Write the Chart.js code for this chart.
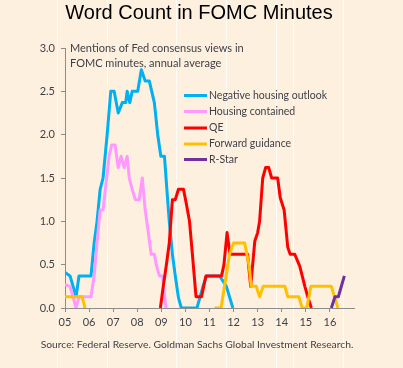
<!DOCTYPE html>
<html>
<head>
<meta charset="utf-8">
<script src="https://cdn.jsdelivr.net/npm/chart.js@4.4.1/dist/chart.umd.min.js"></script>
<style>
  body { margin: 0; background: #fdf0df; }
  #wrap { width: 403px; height: 368px; }
</style>
</head>
<body>
<div id="wrap"><canvas id="myChart" width="403" height="368"></canvas></div>
<script>
// x values are years since 2000 (5 = 2005), y values are mentions per minutes
const yearLabels = ["05", "06", "07", "08", "09", "10", "11", "12", "13", "14", "15", "16"];

const negHousingX = [5.00, 5.21, 5.46, 5.58, 6.08, 6.21, 6.33, 6.46, 6.58, 6.75, 6.90, 7.04, 7.21, 7.38, 7.52, 7.58, 7.69, 7.79, 8.02, 8.17, 8.33, 8.50, 8.71, 8.85, 8.98, 9.13, 9.23, 9.33, 9.46, 9.58, 9.71, 9.83, 10.48, 10.60, 10.73, 10.88, 11.42, 11.70, 11.97];
const negHousingY = [0.41, 0.37, 0.13, 0.37, 0.37, 0.75, 1.00, 1.37, 1.50, 2.00, 2.50, 2.50, 2.25, 2.37, 2.37, 2.50, 2.37, 2.50, 2.50, 2.75, 2.62, 2.62, 2.37, 2.00, 1.75, 1.75, 1.37, 1.00, 0.62, 0.37, 0.12, 0, 0, 0.12, 0.25, 0.37, 0.37, 0.25, 0];

const housingContX = [5.00, 5.21, 5.46, 5.58, 6.08, 6.21, 6.33, 6.46, 6.58, 6.73, 6.83, 6.94, 7.08, 7.21, 7.33, 7.46, 7.58, 7.67, 7.79, 7.92, 8.08, 8.21, 8.33, 8.46, 8.58, 8.71, 8.79, 8.92, 9.05, 9.19];
const housingContY = [0.27, 0.25, 0, 0.13, 0.13, 0.37, 0.75, 1.13, 1.13, 1.50, 1.75, 1.88, 1.88, 1.62, 1.75, 1.62, 1.75, 1.50, 1.37, 1.25, 1.25, 1.50, 1.13, 0.87, 0.62, 0.62, 0.50, 0.37, 0.37, 0];

const qeX = [8.96, 9.08, 9.21, 9.33, 9.46, 9.58, 9.71, 9.92, 10.04, 10.17, 10.29, 10.44, 10.67, 10.85, 11.50, 11.60, 11.73, 11.85, 12.58, 12.71, 12.88, 13.00, 13.08, 13.21, 13.33, 13.46, 13.58, 13.83, 13.94, 14.10, 14.25, 14.35, 14.54, 14.75, 14.96, 15.08, 15.23];
const qeY = [0, 0.25, 0.50, 0.75, 1.25, 1.25, 1.37, 1.37, 1.20, 1.00, 0.62, 0.13, 0.13, 0.37, 0.37, 0.50, 0.87, 0.62, 0.62, 0.25, 0.77, 0.87, 1.00, 1.50, 1.62, 1.62, 1.50, 1.50, 1.27, 1.13, 0.70, 0.62, 0.62, 0.48, 0.25, 0.13, 0];

const fwdGuidX = [5.00, 5.71, 5.83, 8.00, 11.21, 11.48, 11.69, 11.83, 12.00, 12.46, 12.65, 12.73, 12.94, 13.08, 13.23, 14.13, 14.25, 14.71, 14.85, 15.04, 15.21, 16.06, 16.33];
const fwdGuidY = [0.13, 0.13, 0, null, 0, 0, 0.37, 0.62, 0.75, 0.75, 0.48, 0.25, 0.25, 0.13, 0.25, 0.25, 0.13, 0.13, 0, 0, 0.25, 0.25, 0];

const rStarX = [16.06, 16.21, 16.35, 16.60];
const rStarY = [0, 0.13, 0.13, 0.37];

const seriesNames = ["Negative housing outlook", "Housing contained", "QE", "Forward guidance", "R-Star"];
const seriesColors = ["#00b0f0", "#ff99ff", "#ff0000", "#ffc000", "#7030a0"];

const bgColor = "#fdf0df";
const axisColor = "#8c8c8c";
const textColor = "#3f3f46";

function toPoints(xs, ys) {
  return xs.map((x, i) => ({ x: x, y: ys[i] }));
}

const allX = [negHousingX, housingContX, qeX, fwdGuidX, rStarX];
const allY = [negHousingY, housingContY, qeY, fwdGuidY, rStarY];

const datasets = seriesNames.map((name, i) => {
  return {
    label: name,
    data: toPoints(allX[i], allY[i]),
    borderColor: seriesColors[i],
    backgroundColor: seriesColors[i],
    borderWidth: 3,
    pointRadius: 0,
    tension: 0,
    borderJoinStyle: "round",
    spanGaps: false,
    order: seriesNames.length - i
  };
});

// background, titles, notes and legend drawn straight on the canvas
const decorations = {
  id: "decorations",
  beforeDraw(chart) {
    const ctx = chart.ctx;
    ctx.save();
    ctx.fillStyle = bgColor;
    ctx.fillRect(0, 0, chart.width, chart.height);
    ctx.strokeStyle = "rgba(255,255,255,0.75)";
    ctx.lineWidth = 1;
    [57, 107, 176, 226, 276, 293, 343].forEach((lx) => {
      ctx.beginPath();
      ctx.moveTo(lx + 0.5, 0);
      ctx.lineTo(lx + 0.5, chart.height);
      ctx.stroke();
    });
    ctx.restore();
  },
  afterDraw(chart) {
    const ctx = chart.ctx;
    ctx.save();
    ctx.fillStyle = "#000";
    ctx.font = "20px 'Liberation Sans', Arial, sans-serif";
    ctx.textAlign = "center";
    ctx.textBaseline = "alphabetic";
    ctx.fillText("Word Count in FOMC Minutes", 199, 19);

    ctx.fillStyle = textColor;
    ctx.font = "11px Lato, sans-serif";
    ctx.textAlign = "left";
    ctx.textBaseline = "middle";
    ctx.fillText("Mentions of Fed consensus views in", 70, 48);
    ctx.fillText("FOMC minutes, annual average", 70, 63);

    // legend
    ctx.font = "10.5px Lato, sans-serif";
    const rows = [95.5, 111.5, 128, 144, 159.5];
    seriesNames.forEach((name, i) => {
      ctx.strokeStyle = seriesColors[i];
      ctx.lineWidth = 3;
      ctx.beginPath();
      ctx.moveTo(184, rows[i]);
      ctx.lineTo(207, rows[i]);
      ctx.stroke();
      ctx.fillStyle = textColor;
      ctx.fillText(name, 209, rows[i]);
    });

    ctx.font = "10.3px Lato, sans-serif";
    ctx.textAlign = "center";
    ctx.fillText("Source: Federal Reserve. Goldman Sachs Global Investment Research.", 197, 345);
    ctx.restore();
  }
};

const myChart = document.getElementById("myChart");
new Chart(myChart, {
  type: "line",
  data: { datasets },
  options: {
    responsive: false,
    animation: false,
    devicePixelRatio: 1,
    layout: { padding: { left: 0, right: 49, top: 48, bottom: 36 } },
    plugins: {
      legend: { display: false },
      tooltip: { enabled: false }
    },
    scales: {
      x: {
        type: "linear",
        min: 5,
        max: 17,
        afterFit: (scale) => { scale.height = 24; },
        border: { display: true, color: axisColor, width: 1 },
        grid: { drawOnChartArea: false, drawTicks: true, tickLength: 4, color: axisColor },
        ticks: {
          stepSize: 1,
          padding: 4,
          maxRotation: 0,
          color: textColor,
          font: { family: "Lato", size: 11 },
          callback: (v) => (v >= 5 && v <= 16 ? yearLabels[v - 5] : null)
        }
      },
      y: {
        min: 0,
        max: 3,
        afterFit: (scale) => { scale.width = 65; },
        border: { display: true, color: axisColor, width: 1 },
        grid: { drawOnChartArea: false, drawTicks: true, tickLength: 4, color: axisColor },
        ticks: {
          stepSize: 0.5,
          padding: 6,
          color: textColor,
          font: { family: "Lato", size: 11 },
          callback: (v) => v.toFixed(1)
        }
      }
    }
  },
  plugins: [decorations]
});
</script>
</body>
</html>
